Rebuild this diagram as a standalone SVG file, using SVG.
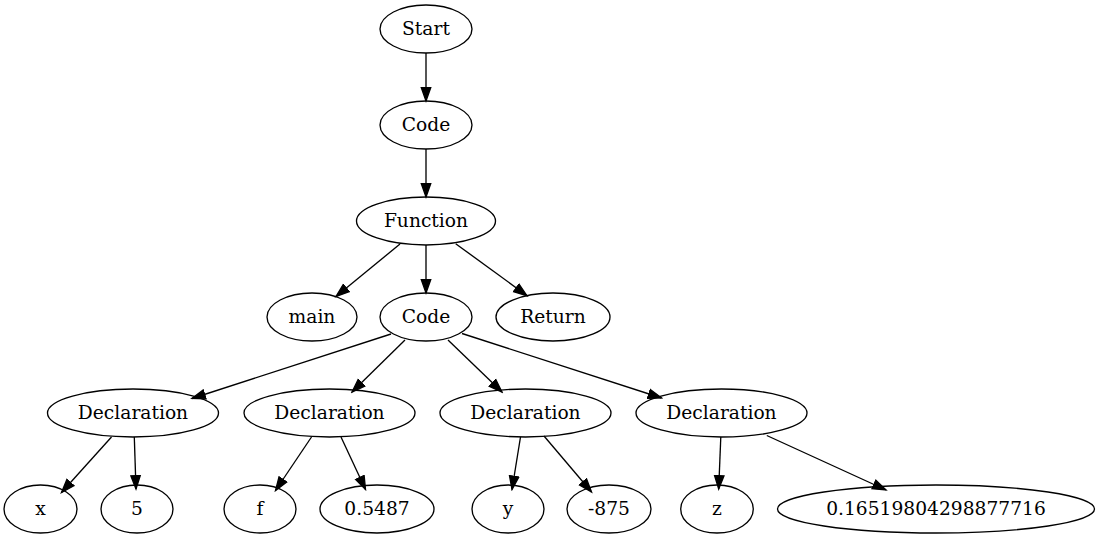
<svg xmlns="http://www.w3.org/2000/svg" width="1100" height="539" viewBox="0 0 1100 539">
<style>
.n ellipse{fill:none;stroke:#000;stroke-width:1.33}
.n text{font-family:"DejaVu Serif","Liberation Serif",serif;font-size:18.67px;text-anchor:middle;fill:#000}
.e line{stroke:#000;stroke-width:1.33;marker-end:url(#ah)}
</style>
<defs>
<marker id="ah" markerUnits="userSpaceOnUse" markerWidth="16" markerHeight="12" viewBox="0 0 16 12" refX="14" refY="6" orient="auto">
<path d="M0.7,1.3 L14,6 L0.7,10.7 z" fill="#000" stroke="#000" stroke-width="1.33"/>
</marker>
</defs>
<rect width="1100" height="539" fill="#fff"/>
<g id="edges" class="e">
<line x1="426" y1="53" x2="426" y2="101"/>
<line x1="426" y1="149" x2="426" y2="197"/>
<line x1="426" y1="245" x2="426" y2="293"/>
<line x1="400" y1="244" x2="336" y2="296.5"/>
<line x1="455.7" y1="243.7" x2="527" y2="295.7"/>
<line x1="391" y1="334" x2="192" y2="398.5"/>
<line x1="405" y1="340" x2="352" y2="392"/>
<line x1="448" y1="340" x2="502" y2="392"/>
<line x1="462" y1="333.5" x2="661.5" y2="398"/>
<line x1="111.5" y1="437" x2="61.5" y2="492.5"/>
<line x1="134.3" y1="437" x2="136" y2="489"/>
<line x1="311.5" y1="437" x2="275.5" y2="490.5"/>
<line x1="341" y1="437" x2="365.5" y2="489.5"/>
<line x1="520.5" y1="437" x2="512" y2="489.5"/>
<line x1="544" y1="436" x2="591.5" y2="492"/>
<line x1="720.8" y1="437" x2="718.7" y2="489"/>
<line x1="766.8" y1="435.5" x2="886" y2="490"/>
</g>
<g id="start" class="n"><ellipse cx="426" cy="29" rx="46" ry="24"/><text x="426" y="34.5">Start</text></g>
<g id="code1" class="n"><ellipse cx="426" cy="125" rx="46" ry="24"/><text x="426" y="130.5">Code</text></g>
<g id="function" class="n"><ellipse cx="426" cy="221" rx="69.5" ry="24"/><text x="426" y="226.5">Function</text></g>
<g id="main" class="n"><ellipse cx="312" cy="317" rx="45" ry="24"/><text x="312" y="322.5">main</text></g>
<g id="code2" class="n"><ellipse cx="426" cy="317" rx="46" ry="24"/><text x="426" y="322.5">Code</text></g>
<g id="return" class="n"><ellipse cx="553" cy="317" rx="57" ry="24"/><text x="553" y="322.5">Return</text></g>
<g id="decl1" class="n"><ellipse cx="133" cy="413" rx="85.5" ry="24"/><text x="133" y="418.5">Declaration</text></g>
<g id="decl2" class="n"><ellipse cx="329.5" cy="413" rx="85.5" ry="24"/><text x="329.5" y="418.5">Declaration</text></g>
<g id="decl3" class="n"><ellipse cx="525.5" cy="413" rx="85.5" ry="24"/><text x="525.5" y="418.5">Declaration</text></g>
<g id="decl4" class="n"><ellipse cx="721.5" cy="413" rx="85.5" ry="24"/><text x="721.5" y="418.5">Declaration</text></g>
<g id="x" class="n"><ellipse cx="40.5" cy="509" rx="36.5" ry="24"/><text x="40.5" y="514.5">x</text></g>
<g id="five" class="n"><ellipse cx="137" cy="509" rx="36" ry="24"/><text x="137" y="514.5">5</text></g>
<g id="f" class="n"><ellipse cx="260" cy="509" rx="36" ry="24"/><text x="260" y="514.5">f</text></g>
<g id="v05487" class="n"><ellipse cx="377" cy="509" rx="57" ry="24"/><text x="377" y="514.5">0.5487</text></g>
<g id="y" class="n"><ellipse cx="508" cy="509" rx="36" ry="24"/><text x="508" y="514.5">y</text></g>
<g id="vm875" class="n"><ellipse cx="609" cy="509" rx="42" ry="24"/><text x="609" y="514.5">-875</text></g>
<g id="z" class="n"><ellipse cx="717" cy="509" rx="36.3" ry="24"/><text x="717" y="514.5">z</text></g>
<g id="vbig" class="n"><ellipse cx="936" cy="509" rx="158.5" ry="24"/><text x="936" y="514.5">0.16519804298877716</text></g>
</svg>
